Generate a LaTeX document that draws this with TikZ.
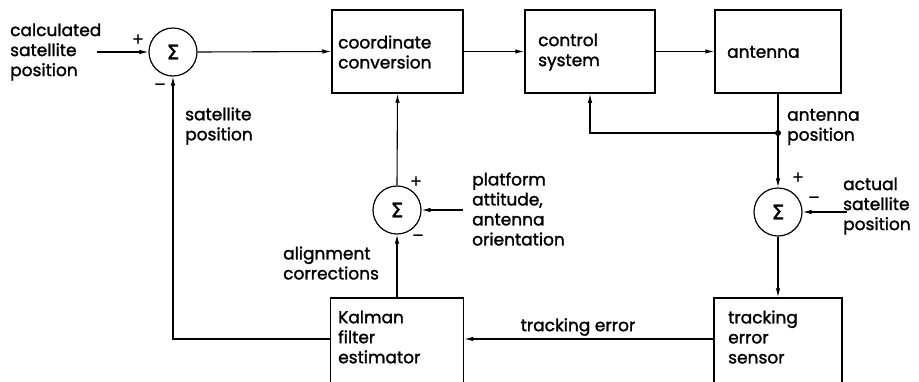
\documentclass[tikz,border=0pt]{standalone}
\usepackage{fontspec}
\setmainfont{Poppins}[RawFeature={embolden=1.5}]
\newfontfamily\symf{DejaVu Sans}[RawFeature={embolden=1.5}]
\usetikzlibrary{arrows.meta}
\tikzset{
  blk/.style={draw, line width=1.5pt, inner sep=0pt},
  sumnode/.style={draw, circle, line width=1.2pt, minimum size=48pt, inner sep=0pt, font=\symf\fontsize{20}{20}\selectfont},
  lbl/.style={align=left, anchor=west, inner sep=0pt, font=\fontsize{17}{20}\selectfont},
  sgn/.style={inner sep=0pt, font=\fontsize{17}{17}\selectfont},
  arr/.style={line width=1.1pt, -{Latex[length=9pt,width=4.5pt]}},
  ln/.style={line width=1.1pt},
}
\begin{document}
\begin{tikzpicture}[x=1pt,y=-1pt]
\useasboundingbox (0,0) rectangle (919,381);
\clip (0,0) rectangle (919,381);
% boxes
\node[blk, minimum width=131pt, minimum height=83pt] (cc) at (397.5,51.5) {};
\node[blk, minimum width=130pt, minimum height=83pt] (cs) at (590,51.5) {};
\node[blk, minimum width=126pt, minimum height=83pt] (ant) at (778,51.5) {};
\node[blk, minimum width=133pt, minimum height=86pt] (kf) at (397,341) {};
\node[blk, minimum width=128pt, minimum height=86pt] (tes) at (778,341) {};
% box texts
\node[lbl] (cct) at (338,52) {coordinate\\conversion};
\node[lbl] (cst) at (538,52) {control\\system};
\node[lbl] (antt) at (727,52) {antenna};
\node[lbl] (kft) at (338,337) {Kalman\\filter\\estimator};
\node[lbl] (test) at (728,337) {tracking\\error\\sensor};
% summing junctions
\node[sumnode] (s1) at (173,52) {Σ};
\node[sumnode] (s2) at (397,210) {Σ};
\node[sumnode] (s3) at (778,212) {Σ};
% signs
\node[sgn] (p1) at (138,40) {+};
\node[sgn] (m1) at (160,87) {–};
\node[sgn] (p2) at (416,182) {+};
\node[sgn] (m2) at (418,238) {–};
\node[sgn] (p3) at (798,178) {+};
\node[sgn] (m3) at (814,200) {–};
% junction dot
\node[circle, fill, inner sep=0pt, minimum size=6pt] (dot) at (778,133) {};
% free ends
\coordinate (in1) at (97,52);
\coordinate (pin) at (463,210);
\coordinate (ain) at (847,212);
% outside labels
\node[lbl] (calc) at (10,52) {calculated\\satellite\\position};
\node[lbl] (satp) at (185,126) {satellite\\position};
\node[lbl] (antp) at (787,127) {antenna\\position};
\node[lbl] (actp) at (843,206) {actual\\satellite\\position};
\node[lbl] (plat) at (472,209) {platform\\attitude,\\antenna\\orientation};
\node[lbl] (alig) at (283,263) {alignment\\corrections};
\node[lbl, anchor=center] (trer) at (578,327) {tracking error};
% connectors
\draw[arr] (in1) -- (s1.west);
\draw[arr] (s1.east) -- (cc.west);
\draw[arr] (cc.east) -- (cs.west);
\draw[arr] (cs.east) -- (ant.west);
\draw[ln] (ant.south) -- (dot.center);
\draw[arr] (dot.center) -| (cs.south);
\draw[arr] (dot.center) -- (s3.north);
\draw[arr] (ain) -- (s3.east);
\draw[arr] (s3.south) -- (tes.north);
\draw[arr] ([yshift=2pt]tes.west) -- ([yshift=2pt]kf.east);
\draw[arr] (kf.north) -- (s2.south);
\draw[arr] (pin) -- (s2.east);
\draw[arr] (s2.north) -- (cc.south);
\draw[arr] ([yshift=2pt]kf.west) -| (s1.south);
\end{tikzpicture}
\end{document}
